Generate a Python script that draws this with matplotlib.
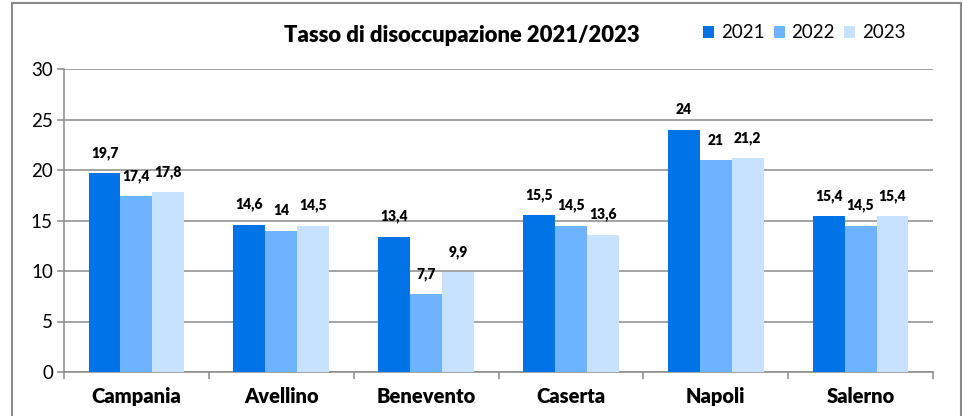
import matplotlib.pyplot as plt
from matplotlib.patches import Rectangle
from matplotlib.ticker import FixedLocator
import numpy as np

plt.rcParams['font.family'] = ['Lato', 'DejaVu Sans']

province = ["Campania", "Avellino", "Benevento", "Caserta", "Napoli", "Salerno"]
anni = ["2021", "2022", "2023"]
tasso2021 = [19.7, 14.6, 13.4, 15.5, 24, 15.4]
tasso2022 = [17.4, 14, 7.7, 14.5, 21, 14.5]
tasso2023 = [17.8, 14.5, 9.9, 13.6, 21.2, 15.4]
colori = ["#0073E6", "#6DB3FF", "#C6E2FF"]

fig = plt.figure(figsize=(9.63, 4.16), dpi=100)
ax = fig.add_axes([64/963, 44/416, (933-64)/963, (372-69)/416])

x = np.arange(len(province))
w = 0.22
grigio = "#8a8a8a"

for i, (serie, anno) in enumerate(zip([tasso2021, tasso2022, tasso2023], anni)):
	pos = x + (i - 1) * w
	bars = ax.bar(pos, serie, width=w, color=colori[i], label=anno, zorder=3)
	for b, v in zip(bars, serie):
		testo = ("%g" % v).replace(".", ",")
		ax.annotate(testo, (b.get_x() + b.get_width()/2, v), xytext=(0, 9.5),
			textcoords="offset points", ha="center", va="bottom",
			fontsize=10, fontweight="heavy")

ax.set_xlim(-0.5, len(province) - 0.5)
ax.set_ylim(0, 30)
ax.set_yticks(range(0, 31, 5))
ax.yaxis.grid(True, color=grigio, lw=1.1, zorder=0)
ax.set_xticks(x)
ax.set_xticklabels(province, fontsize=14.5, fontweight="heavy")
ax.xaxis.set_minor_locator(FixedLocator(np.arange(-0.5, len(province), 1)))
ax.tick_params(axis="x", which="major", length=0, pad=11)
ax.tick_params(axis="x", which="minor", length=5, width=1.1, color=grigio)
ax.tick_params(axis="y", length=5, width=1.1, color=grigio, labelsize=13.5, pad=3)
for s in ["top", "right"]:
	ax.spines[s].set_visible(False)
for s in ["left", "bottom"]:
	ax.spines[s].set_color(grigio)
	ax.spines[s].set_linewidth(1.1)

fig.text(462/963, 1 - 35/416, "Tasso di disoccupazione 2021/2023", ha="center", va="center",
	fontsize=15.8, fontweight="heavy")
fig.legend(loc="center left", bbox_to_anchor=(703/963, 1 - 33/416), ncol=3, frameon=False,
	fontsize=13.5, handlelength=0.59, handleheight=0.59, handletextpad=0.35, columnspacing=0.5,
	borderpad=0, borderaxespad=0)

fig.patches.append(Rectangle((11.5/963, -0.02), (961-11.5)/963, (416-3)/416 + 0.02,
	transform=fig.transFigure, fill=False, edgecolor=grigio, lw=1.5))

fig.savefig("out.png", dpi=100)
